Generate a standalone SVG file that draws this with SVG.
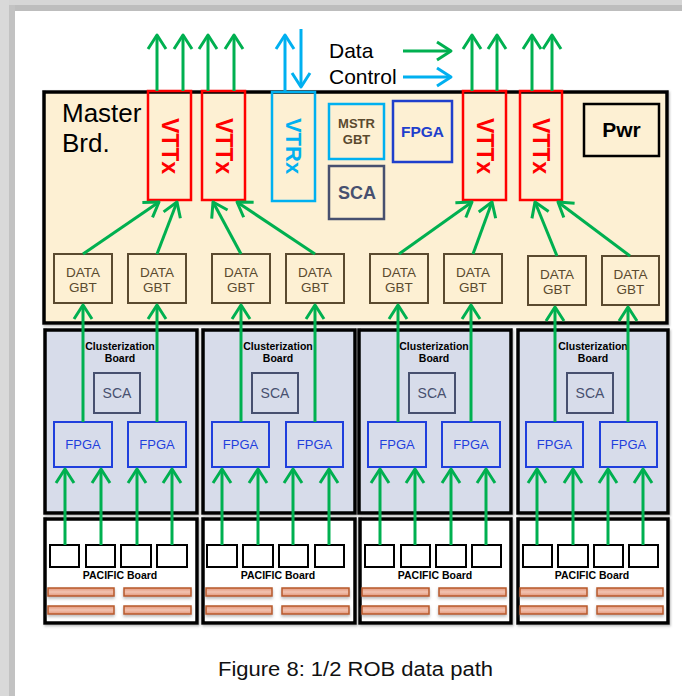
<svg xmlns="http://www.w3.org/2000/svg" width="682" height="696" viewBox="0 0 682 696">
<defs>
<marker id="ag" markerUnits="userSpaceOnUse" viewBox="-17 -12 20 24" markerWidth="20" markerHeight="24" refX="0" refY="0" orient="auto" overflow="visible">
<path d="M-14,-9 L0,0 L-14,9" fill="none" stroke="#00b050" stroke-width="3" stroke-linejoin="round"/>
</marker>
<marker id="ab" markerUnits="userSpaceOnUse" viewBox="-17 -12 20 24" markerWidth="20" markerHeight="24" refX="0" refY="0" orient="auto" overflow="visible">
<path d="M-14,-9 L0,0 L-14,9" fill="none" stroke="#00b0f0" stroke-width="3" stroke-linejoin="round"/>
</marker>
<linearGradient id="bar" x1="0" y1="0" x2="0" y2="1">
<stop offset="0" stop-color="#e3967a"/>
<stop offset="0.5" stop-color="#f2c3b1"/>
<stop offset="1" stop-color="#e3967a"/>
</linearGradient>
<filter id="sh" x="-10%" y="-50%" width="120%" height="250%">
<feDropShadow dx="0" dy="2" stdDeviation="1.5" flood-color="#777" flood-opacity="0.5"/>
</filter>
<filter id="bsh" x="-5%" y="-5%" width="110%" height="110%">
<feDropShadow dx="1" dy="1.5" stdDeviation="1.2" flood-color="#666" flood-opacity="0.45"/>
</filter>
</defs>
<style>
.t{font-family:"Liberation Sans",Arial,sans-serif}
.b{font-weight:bold}
.g{fill:none;stroke:#00b050;stroke-width:3;marker-end:url(#ag)}
.c{fill:none;stroke:#00b0f0;stroke-width:3;marker-end:url(#ab)}
.vtt{fill:none;stroke:#ff0000;stroke-width:2.5}
.vtttx{fill:#ff0000;font-size:23px;font-weight:bold;text-anchor:middle}
.dg{fill:none;stroke:#5a4a2f;stroke-width:2}
.dgt{fill:#5a4a2f;font-size:13.5px;text-anchor:middle}
.cl{fill:#d7dcea;stroke:#000;stroke-width:3.5}
.pc{fill:#fff;stroke:#000;stroke-width:3.5}
.sca{fill:none;stroke:#47506f;stroke-width:2}
.scat{fill:#47506f;font-size:14px;text-anchor:middle}
.fp{fill:none;stroke:#1f3fdd;stroke-width:2}
.fpt{fill:#1f3fdd;font-size:13px;text-anchor:middle}
.lbl{fill:#000;font-size:10.5px;font-weight:bold;text-anchor:middle}
.chip{fill:#fff;stroke:#000;stroke-width:2}
.bar{fill:url(#bar);stroke:#b85a2a;stroke-width:1.5;filter:url(#sh)}
</style>
<rect x="0" y="0" width="682" height="696" fill="#fff"/>
<rect x="0" y="0" width="682" height="5" fill="#d6d6d6"/>
<rect x="0" y="5" width="682" height="6" fill="#bdbdbd"/>
<rect x="0" y="0" width="9" height="696" fill="#d9d9d9"/>
<rect x="9" y="5" width="6" height="691" fill="#c2c2c2"/>

<g id="master-board">
<rect x="44" y="92" width="623" height="231" fill="#fdf0d3" stroke="#000" stroke-width="3.5" filter="url(#bsh)"/>
<text class="t" x="62" y="122" font-size="26">Master</text>
<text class="t" x="62" y="152" font-size="26">Brd.</text>
</g>

<g id="legend">
<text class="t" x="329" y="58" font-size="21">Data</text>
<text class="t" x="329" y="84" font-size="21">Control</text>
</g>

<g id="vttx1"><rect class="vtt" x="148" y="91" width="43" height="109"/><text class="t vtttx" transform="translate(169.5,146) rotate(90)" x="0" y="8">VTTx</text></g>
<g id="vttx2"><rect class="vtt" x="202" y="91" width="43" height="109"/><text class="t vtttx" transform="translate(223.5,146) rotate(90)" x="0" y="8">VTTx</text></g>
<g id="vttx3"><rect class="vtt" x="463" y="91" width="43" height="109"/><text class="t vtttx" transform="translate(484.5,146) rotate(90)" x="0" y="8">VTTx</text></g>
<g id="vttx4"><rect class="vtt" x="520" y="91" width="42" height="109"/><text class="t vtttx" transform="translate(541,146) rotate(90)" x="0" y="8">VTTx</text></g>
<g id="vtrx"><rect x="272" y="92" width="43" height="109" fill="none" stroke="#00b0f0" stroke-width="2.5"/><text class="t b" transform="translate(293.5,146) rotate(90)" x="0" y="8" font-size="22" fill="#00b0f0" text-anchor="middle">VTRx</text></g>
<g id="mstr-gbt"><rect x="329" y="104" width="55" height="55" fill="none" stroke="#00b0f0" stroke-width="2.5"/><text class="t b" x="356.5" y="128" font-size="13" fill="#5a4a2f" text-anchor="middle">MSTR</text><text class="t b" x="356.5" y="144" font-size="13" fill="#5a4a2f" text-anchor="middle">GBT</text></g>
<g id="master-sca"><rect x="329" y="166" width="55" height="53" fill="none" stroke="#47506f" stroke-width="2.5"/><text class="t b" x="357" y="199" font-size="18" fill="#47506f" text-anchor="middle">SCA</text></g>
<g id="master-fpga"><rect x="393" y="101" width="59" height="61" fill="none" stroke="#1f3fcc" stroke-width="2.5"/><text class="t b" x="422.5" y="137" font-size="15.5" fill="#1f3fcc" text-anchor="middle">FPGA</text></g>
<g id="pwr"><rect x="584" y="104" width="75" height="52" fill="none" stroke="#000" stroke-width="2.5"/><text class="t b" x="621.5" y="137" font-size="21" fill="#000" text-anchor="middle">Pwr</text></g>

<g id="data-gbt-1"><rect class="dg" x="54" y="254" width="58" height="49"/><text class="t dgt" x="83" y="277">DATA</text><text class="t dgt" x="83" y="292">GBT</text></g>
<g id="data-gbt-2"><rect class="dg" x="128" y="254" width="58" height="49"/><text class="t dgt" x="157" y="277">DATA</text><text class="t dgt" x="157" y="292">GBT</text></g>
<g id="data-gbt-3"><rect class="dg" x="212" y="254" width="58" height="49"/><text class="t dgt" x="241" y="277">DATA</text><text class="t dgt" x="241" y="292">GBT</text></g>
<g id="data-gbt-4"><rect class="dg" x="286" y="254" width="58" height="49"/><text class="t dgt" x="315" y="277">DATA</text><text class="t dgt" x="315" y="292">GBT</text></g>
<g id="data-gbt-5"><rect class="dg" x="370" y="254" width="58" height="49"/><text class="t dgt" x="399" y="277">DATA</text><text class="t dgt" x="399" y="292">GBT</text></g>
<g id="data-gbt-6"><rect class="dg" x="444" y="254" width="58" height="49"/><text class="t dgt" x="473" y="277">DATA</text><text class="t dgt" x="473" y="292">GBT</text></g>
<g id="data-gbt-7"><rect class="dg" x="528" y="256" width="58" height="49"/><text class="t dgt" x="557" y="279">DATA</text><text class="t dgt" x="557" y="294">GBT</text></g>
<g id="data-gbt-8"><rect class="dg" x="602" y="256" width="57" height="49"/><text class="t dgt" x="630.5" y="279">DATA</text><text class="t dgt" x="630.5" y="294">GBT</text></g>

<g id="clusterization-board-1"><rect class="cl" x="45" y="330" width="152" height="183" filter="url(#bsh)"/><text class="t lbl" x="120" y="350">Clusterization</text><text class="t lbl" x="120" y="362">Board</text></g>
<g id="clusterization-board-2"><rect class="cl" x="203" y="330" width="152" height="183" filter="url(#bsh)"/><text class="t lbl" x="278" y="350">Clusterization</text><text class="t lbl" x="278" y="362">Board</text></g>
<g id="clusterization-board-3"><rect class="cl" x="359" y="330" width="152" height="183" filter="url(#bsh)"/><text class="t lbl" x="434" y="350">Clusterization</text><text class="t lbl" x="434" y="362">Board</text></g>
<g id="clusterization-board-4"><rect class="cl" x="518" y="330" width="150" height="183" filter="url(#bsh)"/><text class="t lbl" x="593" y="350">Clusterization</text><text class="t lbl" x="593" y="362">Board</text></g>

<g id="sca-1"><rect class="sca" x="94" y="373" width="46" height="40"/><text class="t scat" x="117" y="398">SCA</text></g>
<g id="sca-2"><rect class="sca" x="252" y="373" width="46" height="40"/><text class="t scat" x="275" y="398">SCA</text></g>
<g id="sca-3"><rect class="sca" x="409" y="373" width="46" height="40"/><text class="t scat" x="432" y="398">SCA</text></g>
<g id="sca-4"><rect class="sca" x="567" y="373" width="46" height="40"/><text class="t scat" x="590" y="398">SCA</text></g>

<g id="fpga-1"><rect class="fp" x="54" y="422" width="58" height="45"/><text class="t fpt" x="83" y="449">FPGA</text></g>
<g id="fpga-2"><rect class="fp" x="128" y="422" width="58" height="45"/><text class="t fpt" x="157" y="449">FPGA</text></g>
<g id="fpga-3"><rect class="fp" x="212" y="422" width="57" height="45"/><text class="t fpt" x="240.5" y="449">FPGA</text></g>
<g id="fpga-4"><rect class="fp" x="286" y="422" width="57" height="45"/><text class="t fpt" x="314.5" y="449">FPGA</text></g>
<g id="fpga-5"><rect class="fp" x="368" y="422" width="58" height="45"/><text class="t fpt" x="397" y="449">FPGA</text></g>
<g id="fpga-6"><rect class="fp" x="442" y="422" width="58" height="45"/><text class="t fpt" x="471" y="449">FPGA</text></g>
<g id="fpga-7"><rect class="fp" x="526" y="422" width="57" height="45"/><text class="t fpt" x="554.5" y="449">FPGA</text></g>
<g id="fpga-8"><rect class="fp" x="600" y="422" width="57" height="45"/><text class="t fpt" x="628.5" y="449">FPGA</text></g>

<g id="pacific-board-1"><rect class="pc" x="45" y="519" width="152" height="104" filter="url(#bsh)"/>
<rect class="chip" x="50" y="545" width="29" height="22"/><rect class="chip" x="86" y="545" width="29" height="22"/><rect class="chip" x="121" y="545" width="30" height="22"/><rect class="chip" x="157" y="545" width="30" height="22"/>
<text class="t lbl" x="120" y="579">PACIFIC Board</text>
<rect class="bar" x="48" y="588" width="66" height="8"/><rect class="bar" x="124" y="588" width="67" height="8"/><rect class="bar" x="48" y="606" width="66" height="8"/><rect class="bar" x="124" y="606" width="67" height="8"/></g>
<g id="pacific-board-2"><rect class="pc" x="203" y="519" width="152" height="104" filter="url(#bsh)"/>
<rect class="chip" x="207" y="545" width="30" height="22"/><rect class="chip" x="243" y="545" width="30" height="22"/><rect class="chip" x="279" y="545" width="29" height="22"/><rect class="chip" x="315" y="545" width="29" height="22"/>
<text class="t lbl" x="278" y="579">PACIFIC Board</text>
<rect class="bar" x="206" y="588" width="66" height="8"/><rect class="bar" x="282" y="588" width="67" height="8"/><rect class="bar" x="206" y="606" width="66" height="8"/><rect class="bar" x="282" y="606" width="67" height="8"/></g>
<g id="pacific-board-3"><rect class="pc" x="360" y="519" width="151" height="104" filter="url(#bsh)"/>
<rect class="chip" x="365" y="545" width="29" height="22"/><rect class="chip" x="401" y="545" width="29" height="22"/><rect class="chip" x="436" y="545" width="30" height="22"/><rect class="chip" x="472" y="545" width="29" height="22"/>
<text class="t lbl" x="435" y="579">PACIFIC Board</text>
<rect class="bar" x="362" y="588" width="67" height="8"/><rect class="bar" x="439" y="588" width="67" height="8"/><rect class="bar" x="362" y="606" width="67" height="8"/><rect class="bar" x="439" y="606" width="67" height="8"/></g>
<g id="pacific-board-4"><rect class="pc" x="518" y="519" width="150" height="104" filter="url(#bsh)"/>
<rect class="chip" x="523" y="545" width="29" height="22"/><rect class="chip" x="558" y="545" width="30" height="22"/><rect class="chip" x="594" y="545" width="29" height="22"/><rect class="chip" x="629" y="545" width="29" height="22"/>
<text class="t lbl" x="592" y="579">PACIFIC Board</text>
<rect class="bar" x="520" y="588" width="67" height="8"/><rect class="bar" x="597" y="588" width="66" height="8"/><rect class="bar" x="520" y="606" width="67" height="8"/><rect class="bar" x="597" y="606" width="66" height="8"/></g>

<g id="connectors">
<line class="g" x1="157" y1="91" x2="157" y2="35"/>
<line class="g" x1="183" y1="91" x2="183" y2="35"/>
<line class="g" x1="208" y1="91" x2="208" y2="35"/>
<line class="g" x1="234" y1="91" x2="234" y2="35"/>
<line class="g" x1="472" y1="91" x2="472" y2="35"/>
<line class="g" x1="497" y1="91" x2="497" y2="35"/>
<line class="g" x1="532" y1="91" x2="532" y2="35"/>
<line class="g" x1="552" y1="91" x2="552" y2="35"/>
<line class="c" x1="285" y1="91" x2="285" y2="35"/>
<line class="c" x1="301" y1="29" x2="301" y2="87"/>
<line class="g" x1="403" y1="51" x2="451" y2="51"/>
<line class="c" x1="403" y1="77" x2="451" y2="77"/>
<line class="g" x1="83" y1="254" x2="159" y2="202"/>
<line class="g" x1="157" y1="254" x2="177" y2="202"/>
<line class="g" x1="241" y1="254" x2="213" y2="202"/>
<line class="g" x1="315" y1="254" x2="237" y2="202"/>
<line class="g" x1="399" y1="254" x2="472" y2="202"/>
<line class="g" x1="473" y1="254" x2="492" y2="202"/>
<line class="g" x1="557" y1="256" x2="535" y2="202"/>
<line class="g" x1="630" y1="256" x2="558" y2="202"/>
<line class="g" x1="83" y1="422" x2="83" y2="305"/>
<line class="g" x1="157" y1="422" x2="157" y2="305"/>
<line class="g" x1="241" y1="422" x2="241" y2="305"/>
<line class="g" x1="315" y1="422" x2="315" y2="305"/>
<line class="g" x1="398" y1="422" x2="398" y2="305"/>
<line class="g" x1="471" y1="422" x2="471" y2="305"/>
<line class="g" x1="555" y1="422" x2="555" y2="307"/>
<line class="g" x1="628" y1="422" x2="628" y2="307"/>
<line class="g" x1="65" y1="545" x2="65" y2="469"/>
<line class="g" x1="101" y1="545" x2="101" y2="469"/>
<line class="g" x1="137" y1="545" x2="137" y2="469"/>
<line class="g" x1="172" y1="545" x2="172" y2="469"/>
<line class="g" x1="222" y1="545" x2="222" y2="469"/>
<line class="g" x1="258" y1="545" x2="258" y2="469"/>
<line class="g" x1="293" y1="545" x2="293" y2="469"/>
<line class="g" x1="329" y1="545" x2="329" y2="469"/>
<line class="g" x1="380" y1="545" x2="380" y2="469"/>
<line class="g" x1="415" y1="545" x2="415" y2="469"/>
<line class="g" x1="451" y1="545" x2="451" y2="469"/>
<line class="g" x1="486" y1="545" x2="486" y2="469"/>
<line class="g" x1="537" y1="545" x2="537" y2="469"/>
<line class="g" x1="573" y1="545" x2="573" y2="469"/>
<line class="g" x1="608" y1="545" x2="608" y2="469"/>
<line class="g" x1="643" y1="545" x2="643" y2="469"/>
</g>

<text class="t" x="218" y="676" font-size="20" textLength="275" lengthAdjust="spacingAndGlyphs" fill="#111">Figure 8: 1/2 ROB data path</text>
</svg>
